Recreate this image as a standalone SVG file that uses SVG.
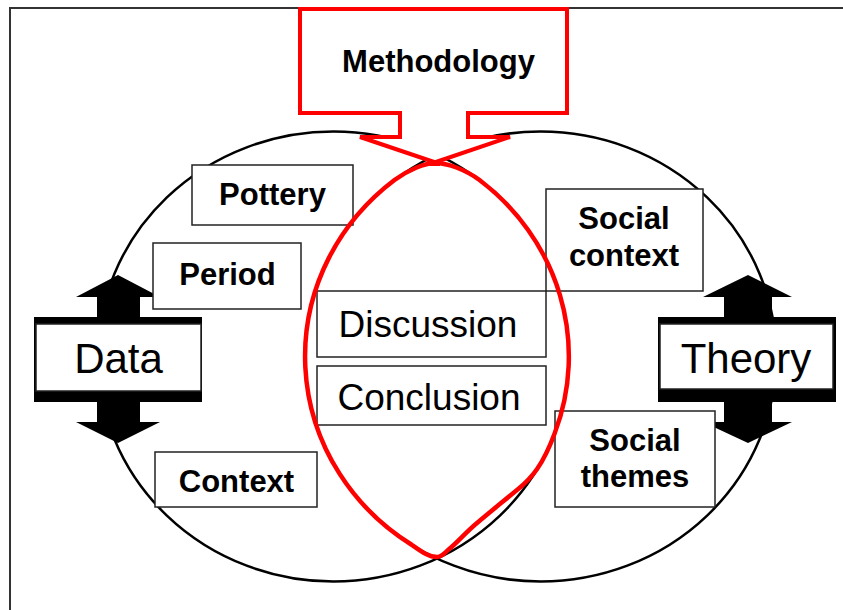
<svg xmlns="http://www.w3.org/2000/svg" width="843" height="610" viewBox="0 0 843 610">
  <style>
    .frame { fill: none; stroke: #333; stroke-width: 2; }
    .ring { fill: none; stroke: #000; stroke-width: 2.5; }
    .box { fill: #fff; stroke: #222; stroke-width: 1.5; }
    .arrow { fill: #000; stroke: none; }
    .label { font-family: "Liberation Sans", Arial, sans-serif; font-weight: bold; font-size: 31px; fill: #000; text-anchor: middle; }
    .big { font-family: "Liberation Sans", Arial, sans-serif; font-size: 42px; fill: #000; text-anchor: middle; }
    .mid { font-family: "Liberation Sans", Arial, sans-serif; font-size: 37px; fill: #000; text-anchor: middle; }
    .red { fill: #fff; stroke: #f00; stroke-width: 4; stroke-linejoin: miter; }
    .leaf { fill: none; stroke: #f00; stroke-width: 4.5; stroke-linejoin: round; }
  </style>

  <!-- page frame -->
  <path class="frame" d="M10,610 V8 H843"/>

  <!-- two overlapping domains -->
  <g id="domains">
    <ellipse class="ring" cx="333.4" cy="356.5" rx="235.5" ry="225"/>
    <ellipse class="ring" cx="540.6" cy="356.5" rx="235.5" ry="225"/>
  </g>

  <!-- double-headed arrows through the side labels -->
  <g id="connectors">
    <path class="arrow" d="M118,275 L160,297 H140 V317 H202 V402 H140 V422 H160 L118,443 L76,422 H97 V402 H34 V317 H97 V297 H76 Z"/>
    <path class="arrow" d="M748,275 L792,297 H772 V317 H836 V402 H772 V422 H792 L748,443 L703,422 H724 V402 H658 V317 H724 V297 H703 Z"/>
  </g>

  <g id="data">
    <rect class="box" x="36" y="324" width="165" height="67"/>
    <text class="big" x="118.5" y="373">Data</text>
  </g>

  <g id="theory">
    <rect class="box" x="660" y="324" width="173" height="65"/>
    <text class="big" x="746" y="373">Theory</text>
  </g>

  <g id="pottery">
    <rect class="box" x="192" y="165" width="161" height="60"/>
    <text class="label" x="272.5" y="205">Pottery</text>
  </g>

  <g id="period">
    <rect class="box" x="153" y="243" width="148" height="66"/>
    <text class="label" x="227.5" y="285">Period</text>
  </g>

  <g id="context">
    <rect class="box" x="155" y="452" width="162" height="55"/>
    <text class="label" x="236.5" y="492">Context</text>
  </g>

  <g id="social-context">
    <rect class="box" x="546" y="189" width="157" height="102"/>
    <text class="label" x="624" y="229">Social</text>
    <text class="label" x="624" y="266">context</text>
  </g>

  <g id="social-themes">
    <rect class="box" x="555" y="411" width="160" height="96"/>
    <text class="label" x="635" y="451">Social</text>
    <text class="label" x="635" y="487">themes</text>
  </g>

  <g id="discussion">
    <rect class="box" x="317" y="291" width="229" height="66"/>
    <text class="mid" x="428" y="337">Discussion</text>
  </g>

  <g id="conclusion">
    <rect class="box" x="317" y="366" width="229" height="59"/>
    <text class="mid" x="429" y="410">Conclusion</text>
  </g>

  <!-- methodology callout pointing into the overlap -->
  <g id="methodology">
    <path class="red" d="M300,9 H567 V113 H468 V137 H510 L430,164 L440,164 L360,137 H400 V113 H300 Z"/>
    <text class="label" x="438.5" y="72">Methodology</text>
  </g>

  <!-- outline traced round the overlap of the two domains -->
  <g id="overlap">
    <path class="leaf" d="M435,163
      C448,163 466,170 479.5,180
      A235.5,225 0 0 1 554.8,433
      C543,465 532,478 517,490
      C500,504 490,512 477,523
      C465,533 457,543 448,550
      C444,554 441,557 437,557
      C429,557 422,552 412,545
      A235.5,225 0 0 1 394.5,180
      C408,170 425,163 435,163 Z"/>
  </g>
</svg>
